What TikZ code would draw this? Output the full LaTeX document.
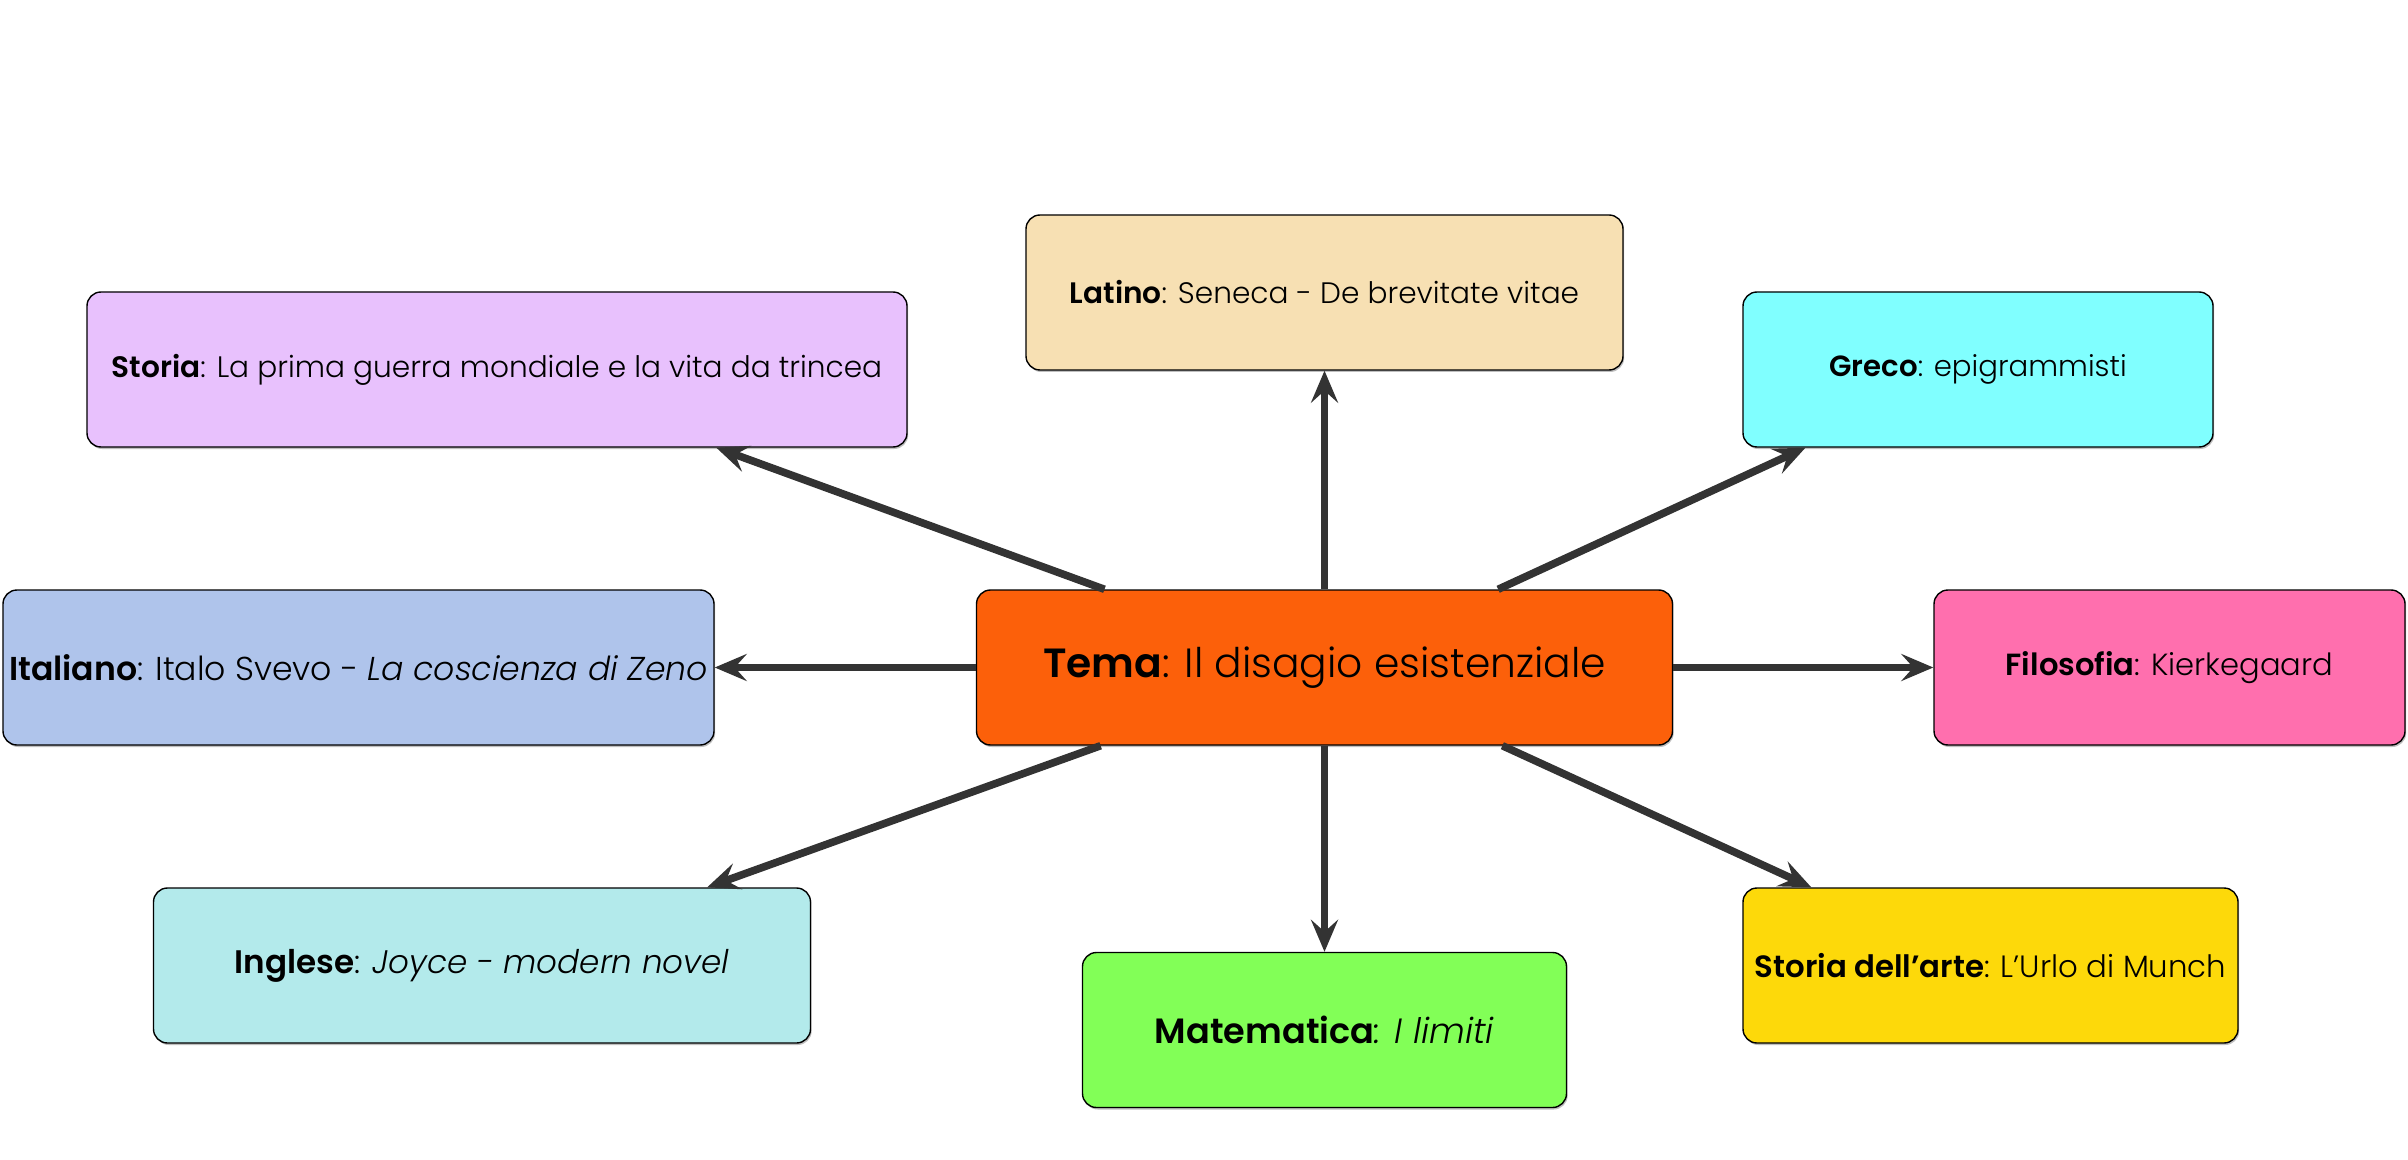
\documentclass[tikz,border=0pt]{standalone}
\usepackage{fontspec}
\setmainfont{Poppins}[UprightFont={* Light}, ItalicFont={* Light Italic}, BoldFont={* SemiBold}, BoldItalicFont={* SemiBold Italic}]
\usetikzlibrary{arrows.meta,calc,shadows}
\definecolor{cStoria}{HTML}{E8C1FD}
\definecolor{cLatino}{HTML}{F7E0B3}
\definecolor{cGreco}{HTML}{80FFFF}
\definecolor{cItaliano}{HTML}{AFC4EB}
\definecolor{cTema}{HTML}{FC600A}
\definecolor{cFilosofia}{HTML}{FF6FAE}
\definecolor{cInglese}{HTML}{B3EAEB}
\definecolor{cMatematica}{HTML}{82FF57}
\definecolor{cArte}{HTML}{FDD90A}
\definecolor{cArrow}{HTML}{333333}
\tikzset{
  box/.style={draw=black, line width=0.7pt, rounded corners=7pt, inner sep=0pt,
    minimum height=77.5pt, align=center, font=\fontsize{14.8}{17}\selectfont,
    drop shadow={shadow xshift=0.6pt, shadow yshift=-1pt, fill=black, opacity=0.25}},
  conn/.style={draw=cArrow, line width=3.8pt, -{Stealth[length=16pt, width=13.5pt, inset=6pt]}}
}
\begin{document}
\begin{tikzpicture}[x=0.5pt, y=-0.5pt]
\useasboundingbox (0,0) rectangle (2408,1160);
\node[box, fill=cStoria, minimum width=410pt] (storia) at (497,369.5)
  {\textbf{Storia}: La prima guerra mondiale e la vita da trincea};
\node[box, fill=cLatino, minimum width=298.5pt] (latino) at (1324.5,292.5)
  {\textbf{Latino}: Seneca - De brevitate vitae};
\node[box, fill=cGreco, minimum width=235pt, font=\fontsize{14.6}{17}\selectfont] (greco) at (1978,369.5)
  {\textbf{Greco}: epigrammisti};
\node[box, fill=cItaliano, minimum width=355.5pt, font=\fontsize{16.55}{19}\selectfont] (italiano) at (358.5,667.5)
  {\textbf{Italiano}: Italo Svevo - \textit{La coscienza di Zeno}};
\node[box, fill=cTema, minimum width=348pt, font=\fontsize{20.4}{24}\selectfont] (tema) at (1324.5,667.5)
  {\textbf{Tema}: Il disagio esistenziale};
\node[box, fill=cFilosofia, minimum width=235.5pt, font=\fontsize{15.3}{18}\selectfont] (filosofia) at (2169.5,667.5)
  {\textbf{Filosofia}: Kierkegaard};
\node[box, fill=cInglese, minimum width=328.5pt, font=\fontsize{16.3}{19}\selectfont] (inglese) at (482,965.5)
  {\textbf{Inglese}: \textit{Joyce - modern novel}};
\node[box, fill=cMatematica, minimum width=242pt, font=\fontsize{17.55}{20}\selectfont] (mat) at (1324.5,1030)
  {\textbf{Matematica}\textit{: I limiti}};
\node[box, fill=cArte, minimum width=247.5pt, font=\fontsize{15.4}{18}\selectfont] (arte) at (1990.5,965.5)
  {\textbf{Storia dell’arte}: L’Urlo di Munch};

\draw[conn] ($(tema.north west)!0.1845!(tema.north east)$) -- ($(storia.south west)!0.767!(storia.south east)$);
\draw[conn] (tema.north) -- (latino.south);
\draw[conn] ($(tema.north west)!0.749!(tema.north east)$) -- ($(greco.south west)!0.134!(greco.south east)$);
\draw[conn] (tema.west) -- (italiano.east);
\draw[conn] (tema.east) -- (filosofia.west);
\draw[conn] ($(tema.south west)!0.179!(tema.south east)$) -- ($(inglese.north west)!0.842!(inglese.north east)$);
\draw[conn] (tema.south) -- (mat.north);
\draw[conn] ($(tema.south west)!0.755!(tema.south east)$) -- ($(arte.north west)!0.139!(arte.north east)$);
\end{tikzpicture}
\end{document}
